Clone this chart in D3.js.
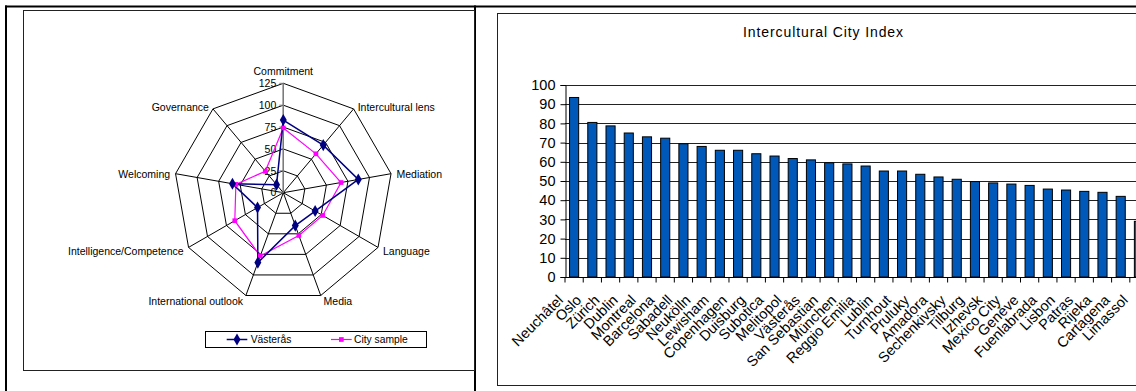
<!DOCTYPE html>
<html>
<head>
<meta charset="utf-8">
<script src="https://cdn.jsdelivr.net/npm/d3@7"></script>
<style>
  html, body { margin: 0; padding: 0; background: #fff; }
  svg { display: block; font-family: "Liberation Sans", Arial, sans-serif; }
</style>
</head>
<body>
<svg id="chart" width="1136" height="391"></svg>
<script>
// ---------- Radar data ----------
const radarAxes = ["Commitment", "Intercultural lens", "Mediation", "Language", "Media",
                   "International outlook", "Intelligence/Competence", "Welcoming", "Governance"];
const vasteras = [83, 71, 87, 42, 40, 85, 34, 59, 12];
const citySample = [74, 58, 67, 52, 52, 77, 64, 55, 32];
const radarTicks = [0, 25, 50, 75, 100, 125];
const radarSeries = ["Västerås", "City sample"];

// ---------- Bar data ----------
const cities = ["Neuchâtel", "Oslo", "Zürich", "Dublin", "Montreal", "Barcelona", "Sabadell", "Neukölln",
  "Lewisham", "Copenhagen", "Duisburg", "Subotica", "Melitopol", "Västerås", "San Sebastian", "München",
  "Reggio Emilia", "Lublin", "Turnhout", "Pruluky", "Amadora", "Sechenkivsky", "Tilburg", "Izhevsk",
  "Mexico City", "Genève", "Fuenlabrada", "Lisbon", "Patras", "Rijeka", "Cartagena", "Limassol"];
const scores = [93.5, 80.5, 78.7, 75, 73, 72.3, 69.4, 68, 66, 66, 64.2, 63, 61.7, 61, 59.5, 58.9,
  57.8, 55.2, 55.2, 53.5, 52.1, 50.9, 49.7, 49, 48.4, 47.7, 45.8, 45.3, 44.6, 44.1, 42, 29];
const barTicks = [0, 10, 20, 30, 40, 50, 60, 70, 80, 90, 100];
const barTitle = "Intercultural City Index";

const svg = d3.select("#chart");

// ---------- Document frame ----------
svg.append("line").attr("x1", 5).attr("x2", 1136).attr("y1", 6.5).attr("y2", 6.5)
  .attr("stroke", "#000").attr("stroke-width", 2);
svg.append("line").attr("x1", 6).attr("x2", 6).attr("y1", 5.5).attr("y2", 391)
  .attr("stroke", "#000").attr("stroke-width", 2);
svg.append("line").attr("x1", 475).attr("x2", 475).attr("y1", 5.5).attr("y2", 391)
  .attr("stroke", "#000").attr("stroke-width", 2);

// left chart box
svg.append("rect").attr("x", 23.5).attr("y", 10.5).attr("width", 451).attr("height", 360)
  .attr("fill", "none").attr("stroke", "#222").attr("stroke-width", 1);
// right chart box
svg.append("rect").attr("x", 497.5).attr("y", 13.5).attr("width", 700).attr("height", 372)
  .attr("fill", "none").attr("stroke", "#222").attr("stroke-width", 1);

// ---------- Radar chart ----------
const cx = 283.3, cy = 192.7;
const rScale = d3.scaleLinear().domain([0, 125]).range([0, 109.4]);
const n = radarAxes.length;
const ang = i => i * 2 * Math.PI / n;
const pt = (i, v) => [cx + rScale(v) * Math.sin(ang(i)), cy - rScale(v) * Math.cos(ang(i))];

const radar = svg.append("g");
// rings
radarTicks.filter(t => t > 0).forEach(t => {
  radar.append("polygon")
    .attr("points", radarAxes.map((a, i) => pt(i, t).join(",")).join(" "))
    .attr("fill", "none").attr("stroke", "#000").attr("stroke-width", 1);
});
// spokes
radarAxes.forEach((a, i) => {
  const p = pt(i, 125);
  radar.append("line").attr("x1", cx).attr("y1", cy).attr("x2", p[0]).attr("y2", p[1])
    .attr("stroke", "#000").attr("stroke-width", 1);
});
// value axis
radar.append("line").attr("x1", cx).attr("y1", cy).attr("x2", cx).attr("y2", cy - rScale(125))
  .attr("stroke", "#808080").attr("stroke-width", 1.3);
radarTicks.forEach(t => {
  radar.append("line").attr("x1", cx - 4).attr("x2", cx).attr("y1", cy - rScale(t)).attr("y2", cy - rScale(t))
    .attr("stroke", "#808080").attr("stroke-width", 1);
  radar.append("text").attr("x", cx - 7).attr("y", cy - rScale(t)).attr("dy", "0.36em")
    .attr("text-anchor", "end").attr("font-size", 10.5).attr("fill", "#000").text(t);
});
// category labels
radarAxes.forEach((a, i) => {
  const p = pt(i, 125);
  const s = Math.sin(ang(i)), c = Math.cos(ang(i));
  const t = radar.append("text").attr("font-size", 10.5).attr("fill", "#000").text(a);
  if (i === 0) {
    t.attr("x", p[0]).attr("y", p[1] - 8).attr("text-anchor", "middle");
  } else {
    const dx = Math.sign(s) * (Math.abs(s) * 4 + 1.5);
    const dy = -c * 4 + 1.5;
    t.attr("x", p[0] + dx).attr("y", p[1] + dy).attr("dy", "0.36em")
      .attr("text-anchor", s > 0 ? "start" : "end");
  }
});
// series
const lineGen = d3.line();
const sData = [
  { name: radarSeries[0], vals: vasteras, color: "#000080", width: 1.5, sym: d3.symbolDiamond, size: 42 },
  { name: radarSeries[1], vals: citySample, color: "#FF00FF", width: 1.2, sym: d3.symbolSquare, size: 22 }
];
sData.slice().reverse().forEach(s => {
  const pts = s.vals.map((v, i) => pt(i, v));
  radar.append("path").attr("d", lineGen(pts) + "Z").attr("fill", "none")
    .attr("stroke", s.color).attr("stroke-width", s.width);
});
sData.slice().reverse().forEach(s => {
  s.vals.forEach((v, i) => {
    const p = pt(i, v);
    radar.append("path").attr("d", d3.symbol().type(s.sym).size(s.size)())
      .attr("transform", `translate(${p[0]},${p[1]})`).attr("fill", s.color);
  });
});
// legend
const lg = svg.append("g");
lg.append("rect").attr("x", 205.5).attr("y", 331.5).attr("width", 221).attr("height", 16)
  .attr("fill", "#fff").attr("stroke", "#000").attr("stroke-width", 1);
const legPos = [{ x1: 226.7, x2: 247.3, tx: 250.7 }, { x1: 331, x2: 351.7, tx: 354 }];
sData.forEach((s, k) => {
  const lp = legPos[k], ly = 339.5;
  lg.append("line").attr("x1", lp.x1).attr("x2", lp.x2).attr("y1", ly).attr("y2", ly)
    .attr("stroke", s.color).attr("stroke-width", s.width);
  lg.append("path").attr("d", d3.symbol().type(s.sym).size(s.size)())
    .attr("transform", `translate(${(lp.x1 + lp.x2) / 2},${ly})`).attr("fill", s.color);
  lg.append("text").attr("x", lp.tx).attr("y", ly).attr("dy", "0.36em")
    .attr("font-size", 10.3).attr("fill", "#000").text(s.name);
});

// ---------- Bar chart ----------
const step = 18.22;
const x = d3.scaleBand().domain(cities).range([565, 565 + cities.length * step])
  .paddingInner(0.5).paddingOuter(0.25);
const y = d3.scaleLinear().domain([0, 100]).range([277, 85]);
const bar = svg.append("g");

bar.append("text").attr("x", 823.5).attr("y", 37).attr("text-anchor", "middle")
  .attr("font-size", 14).attr("letter-spacing", 0.9).attr("fill", "#000").text(barTitle);

// gridlines
barTicks.forEach(t => {
  bar.append("line").attr("x1", 565).attr("x2", 1160).attr("y1", Math.round(y(t)) + 0.5).attr("y2", Math.round(y(t)) + 0.5)
    .attr("stroke", "#222").attr("stroke-width", 1);
});
// y axis
const yAxis = d3.axisLeft(y).tickValues(barTicks).tickSize(5).tickPadding(5);
const yg = bar.append("g").attr("transform", "translate(565.5,0)").call(yAxis);
yg.select(".domain").attr("stroke", "#000");
yg.selectAll(".tick line").attr("stroke", "#000");
yg.selectAll(".tick text").attr("font-size", 14.5).attr("font-family", "Liberation Sans, Arial, sans-serif").attr("fill", "#000");

// bars
bar.selectAll("rect.b").data(cities).enter().append("rect").attr("class", "b")
  .attr("x", d => x(d)).attr("width", x.bandwidth())
  .attr("y", (d, i) => y(scores[i])).attr("height", (d, i) => y(0) - y(scores[i]))
  .attr("fill", "#0058B8").attr("stroke", "#000").attr("stroke-width", 1);

// x axis
bar.append("line").attr("x1", 565).attr("x2", 1160).attr("y1", 277.5).attr("y2", 277.5)
  .attr("stroke", "#000");
cities.forEach(c => {
  const bx = x(c) - x.step() * x.paddingOuter();
  bar.append("line").attr("x1", bx).attr("x2", bx).attr("y1", 277.5).attr("y2", 282.5).attr("stroke", "#000");
});
// category labels
bar.selectAll("text.cat").data(cities).enter().append("text").attr("class", "cat")
  .attr("transform", d => `translate(${x(d) - x.step() * x.paddingOuter() - 1},301) rotate(-45)`)
  .attr("text-anchor", "end").attr("font-size", 14.5).attr("fill", "#000").text(d => d);
</script>
</body>
</html>
